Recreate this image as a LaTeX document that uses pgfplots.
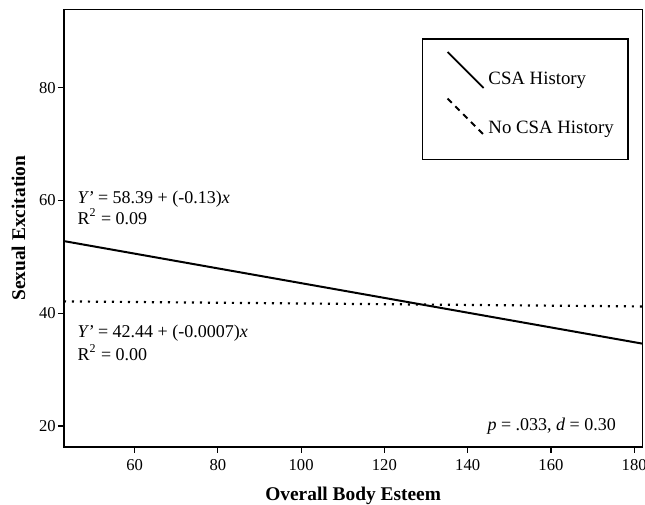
\documentclass[border=0pt]{standalone}
\usepackage{fontspec}
\setmainfont{Liberation Serif}
\usepackage{pgfplots}
\pgfplotsset{compat=1.18}
\usetikzlibrary{calc}

\begin{document}
\begin{tikzpicture}
\begin{axis}[
  scale only axis,
  width=289.35pt, height=218.7pt,
  xmin=43, xmax=182, ymin=16.3, ymax=93.9,
  xtick={60,80,...,180}, ytick={20,40,60,80},
  tick align=outside, tick pos=left,
  major tick length=3pt,
  tick style={black, line width=0.6pt},
  axis line style={line width=0.8pt},
  /pgf/number format/assume math mode=true,
  ticklabel style={font=\fontsize{8.3}{9}\selectfont},
  yticklabel style={xshift=2.5pt},
  xlabel={Overall Body Esteem},
  ylabel={Sexual Excitation},
  label style={font=\fontsize{9.7}{11}\selectfont\bfseries},
  xlabel style={at={(axis description cs:0.5,-0.113)}, anchor=center},
  ylabel style={at={(axis description cs:-0.0783,0.5)}, anchor=center},
  legend style={at={(axis description cs:0.976,0.934)}, anchor=north east,
    draw=black, line width=0.8pt, inner xsep=5pt, inner ysep=6pt,
    row sep=3pt, font=\fontsize{9.4}{11}\selectfont,
    cells={anchor=west}},
]
\coordinate (bl) at (rel axis cs:0,0);
\coordinate (tr) at (rel axis cs:1,1);

% CSA history
\addplot[black, line width=1pt,
  legend image code/.code={
    \path (-7pt,0pt);
    \draw[black, line width=0.9pt] (0pt,14pt) -- (18pt,-4pt);}]
  coordinates {(43,52.8) (182,34.6)};
\addlegendentry{CSA History}

% no CSA history
\addplot[black, line width=1.1pt, dash pattern=on 1.1pt off 2.9pt,
  legend image code/.code={
    \path (-7pt,0pt) (0pt,-9pt);
    \draw[black, line width=0.9pt, dash pattern=on 3pt off 2.5pt] (0pt,15pt) -- (18pt,-3pt);}]
  coordinates {(43,42.1) (182,41.2)};
\addlegendentry{No CSA History}

\begin{scope}[font=\fontsize{9}{10}\selectfont]
\node[anchor=west, inner sep=0pt] at (axis cs:46.2,60.2) {\textit{Y'} = 58.39 + (-0.13)\textit{x}};
\node[anchor=west, inner sep=0pt] at (axis cs:46.2,57.1) {R\textsuperscript{2} = 0.09};
\node[anchor=west, inner sep=0pt] at (axis cs:46.2,36.45) {\textit{Y'} = 42.44 + (-0.0007)\textit{x}};
\node[anchor=west, inner sep=0pt] at (axis cs:46.2,33.0) {R\textsuperscript{2} = 0.00};
\node[anchor=east, inner sep=0pt] at (axis cs:175.7,20) {\textit{p} = .033, \textit{d} = 0.30};
\end{scope}
\end{axis}
\pgfresetboundingbox
\useasboundingbox ($(bl)+(-31.9pt,-28.7pt)$) rectangle ($(tr)+(1.25pt,4.7pt)$);
\end{tikzpicture}
\end{document}
